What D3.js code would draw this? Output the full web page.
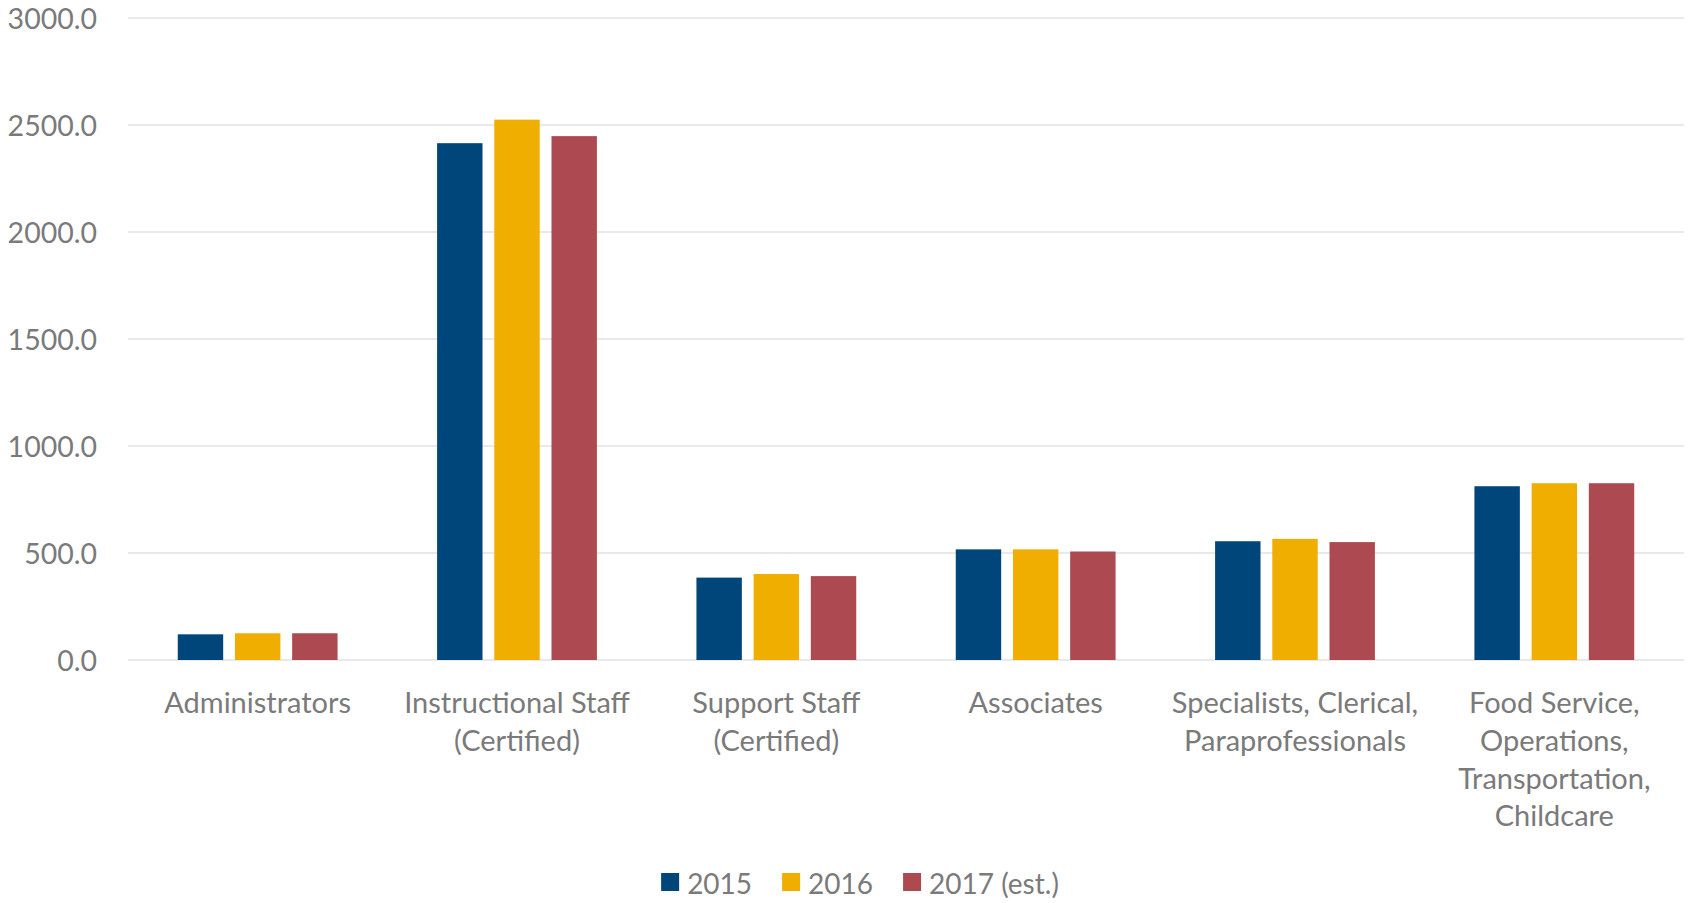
<!DOCTYPE html>
<html>
<head>
<meta charset="utf-8">
<script src="https://cdn.jsdelivr.net/npm/d3@7"></script>
<style>
  body { margin: 0; background: #fff; }
  text { font-family: Lato, "Open Sans", sans-serif; fill: #7a7a7a; }
</style>
</head>
<body>
<div id="chart"></div>
<script>
// data
const categories = [
    ["Administrators"],
    ["Instructional Staff", "(Certified)"],
    ["Support Staff", "(Certified)"],
    ["Associates"],
    ["Specialists, Clerical,", "Paraprofessionals"],
    ["Food Service,", "Operations,", "Transportation,", "Childcare"]
];
const years = ["2015", "2016", "2017 (est.)"];
const values2015 = [120, 2415, 385, 517, 555, 812];
const values2016 = [125, 2525, 402, 517, 566, 826];
const values2017 = [125, 2448, 392, 507, 551, 826];
const yTicks = [0, 500, 1000, 1500, 2000, 2500, 3000];
const colors = ["#00467a", "#efae00", "#ad4a51"];

const W = 1694, H = 903;
const margin = { top: 18, right: 10, bottom: 243, left: 128 };
const width = W - margin.left - margin.right;
const height = H - margin.top - margin.bottom;

const series = [values2015, values2016, values2017];
const keys = categories.map(c => c.join(" "));

const svg = d3.select("#chart").append("svg")
    .attr("width", W)
    .attr("height", H);
const g = svg.append("g")
    .attr("transform", `translate(${margin.left},${margin.top})`);

// scales
const x0 = d3.scaleBand().domain(keys).range([0, width]);
const x1 = d3.scaleBand().domain(years).range([0, x0.bandwidth()])
    .paddingInner(0.206).paddingOuter(0.87);
const y = d3.scaleLinear().domain([0, 3000]).range([height, 0]);
const color = d3.scaleOrdinal().domain(years).range(colors);

// gridlines
g.append("g")
    .selectAll("line")
    .data(yTicks)
    .enter()
    .append("line")
    .attr("x1", 0)
    .attr("x2", width)
    .attr("y1", d => y(d))
    .attr("y2", d => y(d))
    .style("stroke", "#e2e2e2")
    .style("stroke-width", 1.5);

// y axis labels
const yAxis = g.append("g")
    .attr("transform", "translate(-31,0)")
    .call(d3.axisLeft(y).tickValues(yTicks).tickFormat(d3.format(".1f")).tickSize(0).tickPadding(0));
yAxis.select(".domain").remove();
yAxis.selectAll("text")
    .style("font-size", "28.5px")
    .style("font-family", "Lato, sans-serif")
    .attr("fill", "#7a7a7a")
    .attr("dy", "0.36em");

// bars
const groups = g.selectAll(".cat")
    .data(keys)
    .enter()
    .append("g")
    .attr("class", "cat")
    .attr("transform", d => `translate(${x0(d)},0)`);

groups.selectAll("rect")
    .data((d, i) => years.map((yr, j) => ({ year: yr, value: series[j][i] })))
    .enter()
    .append("rect")
    .attr("x", d => x1(d.year))
    .attr("width", x1.bandwidth())
    .attr("y", d => y(d.value))
    .attr("height", d => y(0) - y(d.value))
    .style("fill", d => color(d.year));

// category labels
const labels = g.append("g")
    .selectAll("text")
    .data(categories)
    .enter()
    .append("text")
    .attr("x", (d, i) => x0(keys[i]) + x0.bandwidth() / 2)
    .attr("y", height + 53)
    .attr("text-anchor", "middle")
    .style("font-size", "29px");
labels.selectAll("tspan")
    .data(d => d)
    .enter()
    .append("tspan")
    .attr("x", function () { return d3.select(this.parentNode).attr("x"); })
    .attr("dy", (d, i) => i === 0 ? 0 : 37.8)
    .text(d => d);

// legend
const legend = svg.append("g");
const items = legend.selectAll("g")
    .data(years)
    .enter()
    .append("g");
items.append("rect")
    .attr("width", 18)
    .attr("height", 18)
    .attr("y", -18)
    .style("fill", d => color(d));
items.append("text")
    .attr("x", 26)
    .attr("y", 3)
    .style("font-size", "28px")
    .text(d => d);

let offset = 0;
items.each(function () {
    const it = d3.select(this);
    it.attr("transform", `translate(${offset},0)`);
    offset += 26 + it.select("text").node().getComputedTextLength() + 30;
});
const legendWidth = offset - 30;
legend.attr("transform", `translate(${860 - legendWidth / 2},891)`);
</script>
</body>
</html>
